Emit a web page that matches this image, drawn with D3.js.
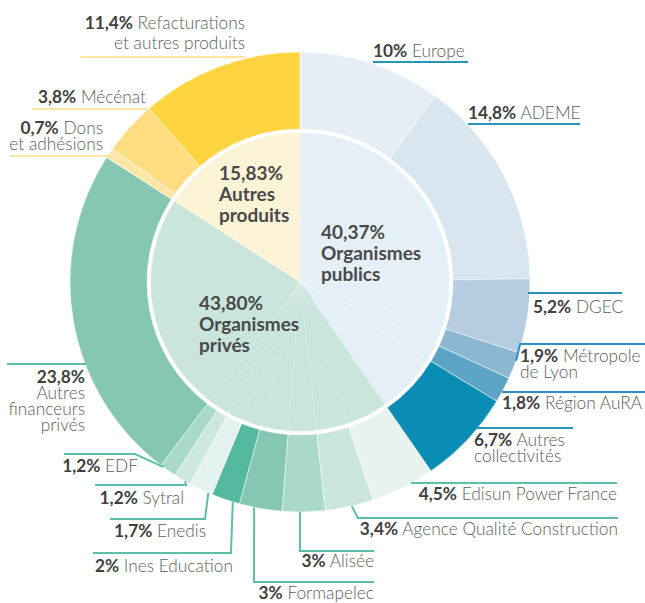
<!DOCTYPE html>
<html>
<head>
<meta charset="utf-8">
<script src="https://cdn.jsdelivr.net/npm/d3@7"></script>
<style>
  body { margin: 0; background: #fff; }
  svg { font-family: Lato, "Open Sans", sans-serif; }
</style>
</head>
<body>
<svg width="645" height="603"></svg>
<script>
// groups (inner pie)
const groups = ["Organismes\npublics", "Organismes\nprivés", "Autres\nproduits"]
const groupShares = [40.37, 43.80, 15.83]
const groupFill = ["#e4eff8", "#c9e5dc", "#fdf3d7"]
const groupLine = ["#2a93bd", "#5cbfa7", "#fde6a2"]

// financeurs (outer ring), clockwise from top
const items = ["Europe", "ADEME", "DGEC", "Métropole\nde Lyon", "Région AuRA", "Autres\ncollectivités",
  "Edisun Power France", "Agence Qualité Construction", "Alisée", "Formapelec", "Ines Education",
  "Enedis", "Sytral", "EDF", "Autres\nfinanceurs\nprivés", "Dons\net adhésions", "Mécénat",
  "Refacturations\net autres produits"]
const itemValues = [10, 14.8, 5.2, 1.9, 1.8, 6.7, 4.5, 3.4, 3, 3, 2, 1.7, 1.2, 1.2, 23.8, 0.7, 3.8, 11.4]
const itemGroup = [0, 0, 0, 0, 0, 0, 1, 1, 1, 1, 1, 1, 1, 1, 1, 2, 2, 2]
const itemFill = ["#e5eef6", "#d9e5ef", "#b5cce1", "#8cb7d1", "#5ca4c6", "#098db4",
  "#e6f3ef", "#cbe7dd", "#a9d9c9", "#86c7b4", "#55b9a0", "#e5f3ef", "#cde8df", "#a9d9c9", "#86c7b4",
  "#fde6a8", "#fddd80", "#fed440"]

let svg = d3.select("svg")
let cx = 300, cy = 282
let rPie = 149, rIn = 153, rOut = 230
let fs = 17.3

let fmt = v => String(v).replace(".", ",") + "%"
let ringPoint = (deg, r) => {
  let a = deg * Math.PI / 180
  return [cx + r * Math.sin(a), cy - r * Math.cos(a)]
}

let pie = d3.pie().sort(null).value(d => d)
let slices = pie(itemValues)

let g = svg.append("g").attr("transform", `translate(${cx},${cy})`)

// inner pie, same cuts as the ring, coloured by group
g.selectAll("path.inner")
  .data(slices)
  .enter().append("path")
  .attr("class", "inner")
  .attr("d", d3.arc().innerRadius(0).outerRadius(rPie))
  .attr("fill", (d, i) => groupFill[itemGroup[i]])
  .attr("stroke", (d, i) => groupFill[itemGroup[i]])
  .attr("stroke-width", 0.6)

g.selectAll("path.sep")
  .data(slices)
  .enter().append("path")
  .attr("class", "sep")
  .attr("d", d => {
    let p = ringPoint(d.startAngle * 180 / Math.PI, rPie)
    return `M0,0L${p[0] - cx},${p[1] - cy}`
  })
  .attr("stroke", "#fff")
  .attr("stroke-opacity", 0.35)
  .attr("stroke-width", 0.6)

// outer ring
g.selectAll("path.outer")
  .data(slices)
  .enter().append("path")
  .attr("class", "outer")
  .attr("d", d3.arc().innerRadius(rIn).outerRadius(rOut))
  .attr("fill", (d, i) => itemFill[i])
  .attr("stroke", "#fff")
  .attr("stroke-width", 0.5)

// inner labels
let innerPos = [[321, 239], [199, 310], [219, 180]]
groups.forEach((name, i) => {
  let lines = [fmt(groupShares[i].toFixed(2))].concat(name.split("\n"))
  svg.append("text")
    .attr("x", innerPos[i][0]).attr("y", innerPos[i][1])
    .attr("fill", "#4a4a4a")
    .style("font-size", "19px").style("font-weight", 700)
    .selectAll("tspan").data(lines).enter().append("tspan")
    .attr("x", innerPos[i][0])
    .attr("dy", (d, j) => j ? 21 : 0)
    .text(d => d)
})

// outer labels: text anchor/position + leader line (y, far x, near x, hook angle)
let labelLayout = [
  {a: "start", x: 373, y: 57, line: [62, 468, 373]},
  {a: "start", x: 468, y: 119, line: [124, 580, 468]},
  {a: "start", x: 533, y: 313, line: [293, 622, 528]},
  {a: "start", x: 520, y: 362, line: [344, 645, 520, 110]},
  {a: "start", x: 502, y: 409, line: [392, 645, 502]},
  {a: "start", x: 474, y: 446, line: [428, 573, 476]},
  {a: "end", x: 617, y: 500, line: [483, 617, 411]},
  {a: "end", x: 618, y: 535, line: [518, 618, 358, 167]},
  {a: "end", x: 374, y: 567, line: [551, 374, 300, 180]},
  {a: "end", x: 374, y: 599, line: [582, 374, 254, 191.5]},
  {a: "end", x: 233, y: 572, line: [553, 93, 231, 197]},
  {a: "end", x: 206, y: 537, line: [519, 110, 205, 203.5]},
  {a: "end", x: 184, y: 504, line: [485, 95, 186, 210]},
  {a: "end", x: 138, y: 472, line: [454, 64, 135, 216.5]},
  {a: "end", x: 85, y: 383, line: [364, 7, 86], alone: true},
  {a: "end", x: 103, y: 134, line: [156, 10, 108]},
  {a: "end", x: 146, y: 103, line: [109, 32, 148]},
  {a: "end", x: 245, y: 29, line: [57, 80, 245], lh: 20}
]

items.forEach((name, i) => {
  let L = labelLayout[i]
  let [ly, xFar, xNear, hook] = L.line
  let pts = [[xFar, ly], [xNear, ly]]
  if (hook !== undefined) pts.push(ringPoint(hook, rOut))
  svg.append("path")
    .attr("d", d3.line()(pts))
    .attr("fill", "none")
    .attr("stroke", groupLine[itemGroup[i]])
    .attr("stroke-width", 2)

  let parts = name.split("\n")
  let lh = L.lh || 16
  let first = svg.append("text")
    .attr("x", L.x).attr("y", L.y)
    .attr("text-anchor", L.a)
    .style("font-size", fs + "px")
  first.append("tspan")
    .attr("fill", "#404040").style("font-weight", 700)
    .text(fmt(itemValues[i]))
  let rest = parts
  if (!L.alone) {
    first.append("tspan")
      .attr("fill", "#5c5c5c").style("font-weight", 300)
      .text(" " + parts[0])
    rest = parts.slice(1)
  }
  rest.forEach((t, j) => {
    svg.append("text")
      .attr("x", L.x).attr("y", L.y + lh * (j + 1))
      .attr("text-anchor", L.a)
      .attr("fill", "#5c5c5c")
      .style("font-size", fs + "px").style("font-weight", 300)
      .text(t)
  })
})
</script>
</body>
</html>
